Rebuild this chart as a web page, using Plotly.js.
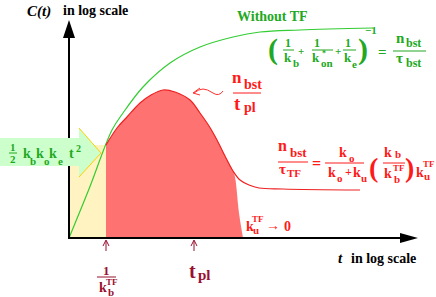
<!DOCTYPE html>
<html><head>
<script src="https://cdn.plot.ly/plotly-3.0.1.min.js"></script>
<style>
body{margin:0;background:#fff}
.annotation-text, .annotation-text tspan{font-family:"Liberation Serif","Tinos","Times New Roman","DejaVu Serif",serif !important}
</style>
</head><body>
<div id="c" style="width:436px;height:297px"></div>
<script>
// ---- data (log t, log C) in chart units, origin at axis crossing ----
const tWithoutTF = [0, 20, 43, 54, 74, 101, 131, 164, 191, 231, 304];
const cWithoutTF = [0, 49, 108, 125, 151, 175, 191, 201, 206, 208, 210];

const tWithTF = [37, 48, 58, 71, 82, 94, 106, 121, 131, 140, 148, 156, 164, 171, 180, 190, 214, 291];
const cWithTF = [93, 110, 121, 135, 143, 148, 146, 138, 125, 112, 98, 82, 67, 58, 53, 50, 49, 48];

// k_u^TF -> 0 branch (drop-off of the shaded burst region)
const tDrop = [166, 170, 174];
const cDrop = [61, 25, 0];

// early-time region t < 1/k_b^TF
const tEarly = [0, 37];
const cEarly = [93, 93];

const X0 = 69, Y0 = 238;
const px = x => x - X0, py = y => Y0 - y;
const FONT = 'Liberation Serif, Tinos, Times New Roman, DejaVu Serif, serif';
const G = '#22A822', R = '#FF1A1A', DR = '#9A1030';

const fillIdx = tWithTF.findIndex(t => t > 164);
const tFill = tWithTF.slice(0, fillIdx).concat(tDrop);
const cFill = cWithTF.slice(0, fillIdx).concat(cDrop);

const traces = [
  {x: tEarly, y: cEarly, mode: 'lines', fill: 'tozeroy', fillcolor: '#FFF3C2', line: {width: 0}, hoverinfo: 'skip'},
  {x: tFill, y: cFill, mode: 'lines', fill: 'tozeroy', fillcolor: '#FF7272', line: {width: 0, shape: 'spline'}, hoverinfo: 'skip'},
  {x: tWithoutTF, y: cWithoutTF, mode: 'lines', line: {color: '#33CC33', width: 1.2, shape: 'spline'}, hoverinfo: 'skip'},
  {x: tWithTF, y: cWithTF, mode: 'lines', line: {color: '#EE2020', width: 1.2, shape: 'spline'}, hoverinfo: 'skip'}
];

const anns = [];
function T(x, y, text, size, color, opt) {
  anns.push(Object.assign({x: px(x), y: py(y), xref: 'x', yref: 'y', text: '<b>' + text + '</b>',
    showarrow: false, font: {family: FONT, size: size, color: color}, borderpad: 0}, opt || {}));
}
const shapes = [];
function L(x1, y1, x2, y2, color, w) {
  shapes.push({type: 'line', x0: px(x1), y0: py(y1), x1: px(x2), y1: py(y2), line: {color: color, width: w}, layer: 'above'});
}
function P(pts, close, fill, color, w) {
  let d = pts.map((p, i) => (i ? 'L' : 'M') + px(p[0]) + ',' + py(p[1])).join(' ') + (close ? ' Z' : '');
  shapes.push({type: 'path', path: d, fillcolor: fill || 'rgba(0,0,0,0)', line: {color: color || 'rgba(0,0,0,0)', width: w || 0}, layer: 'above'});
}
function PD(d, color, w) {
  shapes.push({type: 'path', path: d, line: {color: color, width: w}, layer: 'above'});
}
const q = (x, y) => px(x) + ',' + py(y);

// axes
L(69, 239, 69, 36, '#000', 2);
P([[69, 20], [63, 38], [75, 38]], true, '#000');
L(68, 238, 402, 238, '#000', 2);
P([[418, 238], [400, 233], [400, 243]], true, '#000');

// green arrow with t^2 text
P([[0, 138], [79, 138], [79, 128], [101, 153], [79, 177], [79, 166], [0, 166]], true, '#CCFFCC');
P([[79, 128], [101, 153], [79, 177]], false, null, '#FFD000', 1);
T(13, 147, '1', 11, G);
L(9, 153, 17, 153, G, 1);
T(13, 159, '2', 11, G);
T(27, 153, 'k', 14, G); T(33, 161, 'b', 11, G);
T(40, 153, 'k', 14, G); T(47, 161, 'o', 11, G);
T(53, 153, 'k', 14, G); T(60, 161, 'e', 11, G);
T(71, 153, 't', 14, G); T(78, 148, '2', 10, G);

// wavy arrow
PD('M' + q(223, 91) + ' Q' + q(219, 97) + ' ' + q(213, 93) + ' T' + q(203, 89) + ' T' + q(194, 93), '#FF3030', 1);
PD('M' + q(200, 88) + ' L' + q(193, 93) + ' L' + q(200, 95), '#FF3030', 1);

// top-left y label
T(39, 11, '<i>C(t)</i>', 15, '#000');
T(95, 10, 'in log scale', 14, '#000');
// x label
T(340, 258, '<i>t</i>', 15, '#000');
T(383, 258, 'in log scale', 14, '#000');

// Without TF
T(272, 16, 'Without TF', 14, G);
T(273, 49, '(', 30, G);
T(288, 43, '1', 12, G); L(283, 50, 294, 50, G, 1); T(288, 57, 'k', 13, G); T(296, 63, 'b', 11, G);
T(301, 51, '+', 11, G);
T(317, 43, '1', 12, G); L(312, 50, 333, 50, G, 1); T(316, 57, 'k', 13, G); T(327, 63, 'on', 11, G);
T(324, 53, '*', 8, G);
T(338, 51, '+', 11, G);
T(348, 43, '1', 12, G); L(343, 50, 356, 50, G, 1); T(348, 57, 'k', 13, G); T(354, 64, 'e', 11, G);
T(363, 49, ')', 30, G);
T(371, 30, '−1', 11, G);
T(382, 52, '=', 15, G);
T(400, 38, 'n', 15, G); T(413, 43, 'bst', 12, G);
L(393, 51, 426, 51, G, 1);
T(399, 58, 'τ', 15, G); T(413, 63, 'bst', 12, G);

// n_bst / t_pl
T(237, 77, 'n', 17, R); T(253, 84, 'bst', 14, R);
L(233, 93, 261, 93, R, 1);
T(237, 103, 't', 19, R); T(250, 107, 'pl', 14, R);

// right red formula
T(282, 145, 'n', 16, R); T(298, 152, 'bst', 13, R);
L(278, 162, 308, 162, R, 1);
T(282, 169, 'τ', 15, R); T(294, 173, 'TF', 11, R);
T(316, 163, '=', 16, R);
T(343, 152, 'k', 14, R); T(352, 158, 'o', 11, R);
L(325, 163, 364, 163, R, 1);
T(332, 172, 'k', 14, R); T(340, 178, 'o', 11, R); T(348, 172, '+', 12, R); T(357, 172, 'k', 14, R); T(364, 178, 'u', 11, R);
T(373, 167, '(', 28, R);
T(388, 152, 'k', 14, R); T(398, 154, 'b', 11, R);
L(383, 163, 405, 163, R, 1);
T(388, 173, 'k', 14, R); T(399, 168, 'TF', 9, R); T(397, 179, 'b', 11, R);
T(409, 167, ')', 28, R);
T(420, 172, 'k', 14, R); T(429, 164, 'TF', 9, R); T(427, 176, 'u', 11, R);

// k_u^TF -> 0
T(250, 226, 'k', 14, R); T(258, 219, 'TF', 9, R); T(256, 230, 'u', 11, R);
T(273, 225, '→', 14, R); T(287, 226, '0', 14, R);

// bottom markers
L(106, 251, 106, 241, DR, 1); PD('M' + q(103, 246) + ' L' + q(106, 240) + ' L' + q(109, 246), DR, 1);
L(194, 251, 194, 241, DR, 1); PD('M' + q(191, 246) + ' L' + q(194, 240) + ' L' + q(197, 246), DR, 1);
T(106, 270, '1', 13, DR); L(97, 277, 116, 277, DR, 1);
T(103, 287, 'k', 14, DR); T(112, 282, 'TF', 9, DR); T(111, 292, 'b', 11, DR);
T(192, 271, 't', 20, DR); T(204, 275, 'pl', 15, DR);

const layout = {
  width: 436, height: 297, margin: {l: 0, r: 0, t: 0, b: 0},
  paper_bgcolor: '#fff', plot_bgcolor: '#fff', showlegend: false,
  xaxis: {range: [px(0), px(436)], visible: false, fixedrange: true},
  yaxis: {range: [py(297), py(0)], visible: false, fixedrange: true},
  annotations: anns, shapes: shapes
};
Plotly.newPlot('c', traces, layout, {staticPlot: true, displayModeBar: false});
</script>
</body></html>
